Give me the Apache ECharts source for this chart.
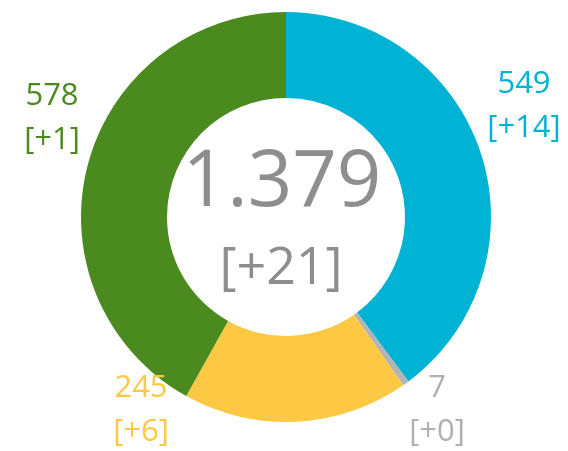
<!DOCTYPE html>
<html>
<head>
<meta charset="utf-8">
<script src="https://cdn.jsdelivr.net/npm/echarts@6/dist/echarts.min.js"></script>
<style>
html,body{margin:0;padding:0;background:#fff;}
#main{width:568px;height:451px;}
</style>
</head>
<body>
<div id="main"></div>
<script>
// dati del grafico
var categorie = ['A', 'B', 'C', 'D'];
var valori = [549, 7, 245, 578];
var variazioni = [14, 0, 6, 1];
var colori = ['#00b2d3', '#b4b4b4', '#fdc843', '#4a8a1f'];
var coloriEtichette = ['#00b2d3', '#b0b0b0', '#fdc843', '#4a8a1f'];
// posizione etichette (centro del blocco)
var posEtichette = [[524, 106], [437, 410], [141, 410], [52, 118]];

var totale = 0, totVar = 0;
for (var i = 0; i < valori.length; i++) {
    totale += valori[i];
    totVar += variazioni[i];
}
function formatta(n) {
    return String(n).replace(/\B(?=(\d{3})+(?!\d))/g, '.');
}

var myChart = echarts.init(document.getElementById('main'));
var dati = [];
for (var i = 0; i < valori.length; i++) {
    dati.push({
        name: categorie[i],
        value: valori[i],
        itemStyle: {color: colori[i]},
        label: {color: coloriEtichette[i]}
    });
}
var option = {
    animation: false,
    textStyle: {fontFamily: 'Open Sans'},
    graphic: [{
        type: 'text',
        x: 282, y: 184,
        style: {
            text: formatta(totale),
            align: 'center',
            verticalAlign: 'middle',
            fontSize: 78,
            fontFamily: 'Open Sans',
            fill: '#8e8e8e'
        }
    }, {
        type: 'text',
        x: 281, y: 269,
        style: {
            text: '[+' + totVar + ']',
            align: 'center',
            verticalAlign: 'middle',
            fontSize: 52,
            fontFamily: 'Open Sans',
            fill: '#8e8e8e'
        }
    }],
    series: [{
        type: 'pie',
        center: [286, 217],
        radius: [119, 205],
        startAngle: 90,
        clockwise: true,
        silent: true,
        labelLine: {show: false},
        label: {
            show: true,
            position: 'outside',
            overflow: 'none',
            fontFamily: 'Open Sans',
            fontSize: 31,
            lineHeight: 44,
            align: 'center',
            formatter: function (p) {
                return p.value + '\n[+' + variazioni[p.dataIndex] + ']';
            }
        },
        labelLayout: function (p) {
            var pos = posEtichette[p.dataIndex];
            return {x: pos[0], y: pos[1], align: 'center', verticalAlign: 'middle'};
        },
        data: dati
    }]
};
myChart.setOption(option);
</script>
</body>
</html>
